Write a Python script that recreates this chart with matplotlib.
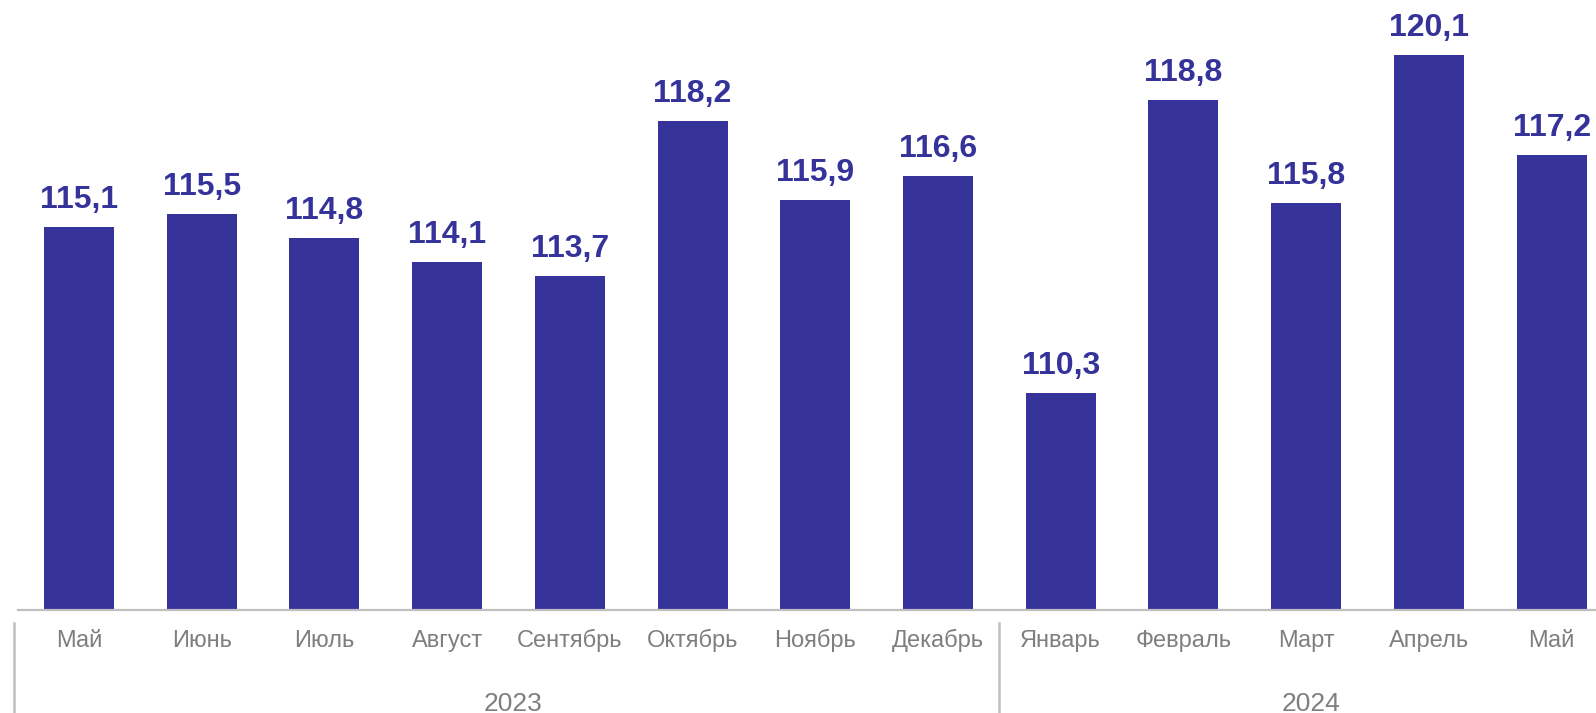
import matplotlib
matplotlib.use("Agg")
import matplotlib.pyplot as plt
from matplotlib.transforms import blended_transform_factory

months = ["Май", "Июнь", "Июль", "Август", "Сентябрь", "Октябрь", "Ноябрь", "Декабрь",
          "Январь", "Февраль", "Март", "Апрель", "Май"]
values = [115.1, 115.5, 114.8, 114.1, 113.7, 118.2, 115.9, 116.6,
          110.3, 118.8, 115.8, 120.1, 117.2]
years = ["2023", "2024"]
year_counts = [8, 5]

BAR = "#35339A"
GRAY_TXT = "#7F7F7F"
GRAY_LINE = "#BFBFBF"

plt.rcParams['font.family'] = ['Liberation Sans', 'DejaVu Sans']

W, H = 1596, 713
fig = plt.figure(figsize=(W / 100, H / 100), dpi=100)
left_px, right_px = 17.6, 1613.0
base_px, top_px = 609.5, 0.0
ax = fig.add_axes([left_px / W, 1 - base_px / H, (right_px - left_px) / W, (base_px - top_px) / H])

x = list(range(len(values)))
ax.bar(x, [v - 104 for v in values], bottom=104, width=0.57, color=BAR, zorder=2)
ax.set_xlim(-0.5, len(values) - 0.5)
ax.set_ylim(104, 104 + (base_px - top_px) / 34.42)

for xi, v in zip(x, values):
    ax.annotate(f"{v:.1f}".replace('.', ','), (xi, v), xytext=(0, 13.7), textcoords='offset points',
                ha='center', va='baseline', fontsize=23, fontweight='bold', color=BAR)

for s in ['top', 'right', 'left']:
    ax.spines[s].set_visible(False)
ax.spines['bottom'].set_color(GRAY_LINE)
ax.spines['bottom'].set_linewidth(1.6)
ax.set_yticks([])
ax.set_xticks(x)
ax.set_xticklabels([])
ax.tick_params(axis='x', length=0)

trans = blended_transform_factory(ax.transData, ax.transAxes)


def ay(px):
    return -(px - base_px) / (base_px - top_px)


for xi, m in zip(x, months):
    ax.text(xi, ay(647), m, transform=trans, ha='center', va='baseline',
            fontsize=17, color=GRAY_TXT)

start = -0.5
for i, (yr, n) in enumerate(zip(years, year_counts)):
    sx = start - (0.03 if i == 0 else 0.0)
    ax.plot([sx, sx], [ay(623), ay(H)], color=GRAY_LINE, lw=1.8,
            transform=trans, clip_on=False)
    center = start + n / 2 + 0.04
    ax.text(center, ay(711), yr, transform=trans, ha='center',
            va='baseline', fontsize=19, color=GRAY_TXT)
    start += n

fig.savefig("out.png", dpi=100)
